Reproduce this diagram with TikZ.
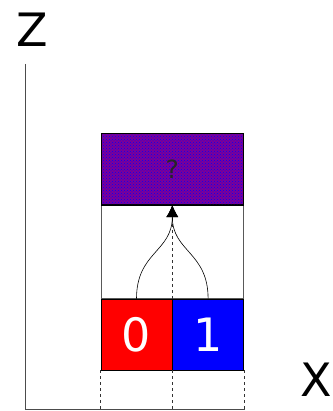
\documentclass[tikz,border=0pt]{standalone}
\usepackage{fontspec}
\setmainfont{DejaVu Sans}
\usetikzlibrary{arrows.meta, patterns, positioning}
\definecolor{mixpurple}{RGB}{125,0,150}

\begin{document}
\begin{tikzpicture}[x=1pt, y=1pt, >={Latex[length=12pt,width=12pt]},
    cell/.style={draw=black, line width=0.6pt, inner sep=0pt, minimum width=71pt, minimum height=71pt},
    bit/.style={cell, text=white, font=\fontsize{46}{46}\selectfont},
    guide/.style={dashed, gray!40!black, line width=0.6pt},
    axis/.style={gray!60!black, line width=1pt}]
  \useasboundingbox (0,0) rectangle (332,411);
  % axes
  \draw[axis] (25,347) -- (25,1.5) -- (245,1.5);
  \node[font=\fontsize{46}{46}\selectfont] (zlab) at (32,381) {Z};
  \node[font=\fontsize{46}{46}\selectfont] (xlab) at (316,31) {X};
  % input cells
  \node[bit, fill=red] (zero) at (136.5,76.5) {0};
  \node[bit, fill=blue, right=0pt of zero] (one) {1};
  % empty slot
  \node[draw=gray!70!black, line width=0.6pt, inner sep=0pt, minimum width=142pt, minimum height=93pt,
    above=0pt of zero.north east] (slot) {};
  % output cell (mixed)
  \node[cell, minimum width=142pt, fill=mixpurple, above=0pt of slot] (out) {};
  \fill[pattern=crosshatch dots, pattern color=blue] (out.south west) rectangle (out.north east);
  \draw[line width=0.6pt] (out.south west) rectangle (out.north east);
  \node[text=black!85, font=\fontsize{25}{25}\selectfont] at (out) {?};
  % guides
  \draw[guide] (zero.south west) -- ++(0,-40);
  \draw[guide] (zero.south east) -- ++(0,-40);
  \draw[guide] (one.south east) -- ++(0,-40);
  \draw[guide] (slot.south) -- (slot.north);
  % merge
  \draw[->, line width=0.6pt] (zero.north) to[out=90, in=-90, looseness=1.2] (out.south);
  \draw[->, line width=0.6pt] (one.north) to[out=90, in=-90, looseness=1.2] (out.south);
\end{tikzpicture}
\end{document}
